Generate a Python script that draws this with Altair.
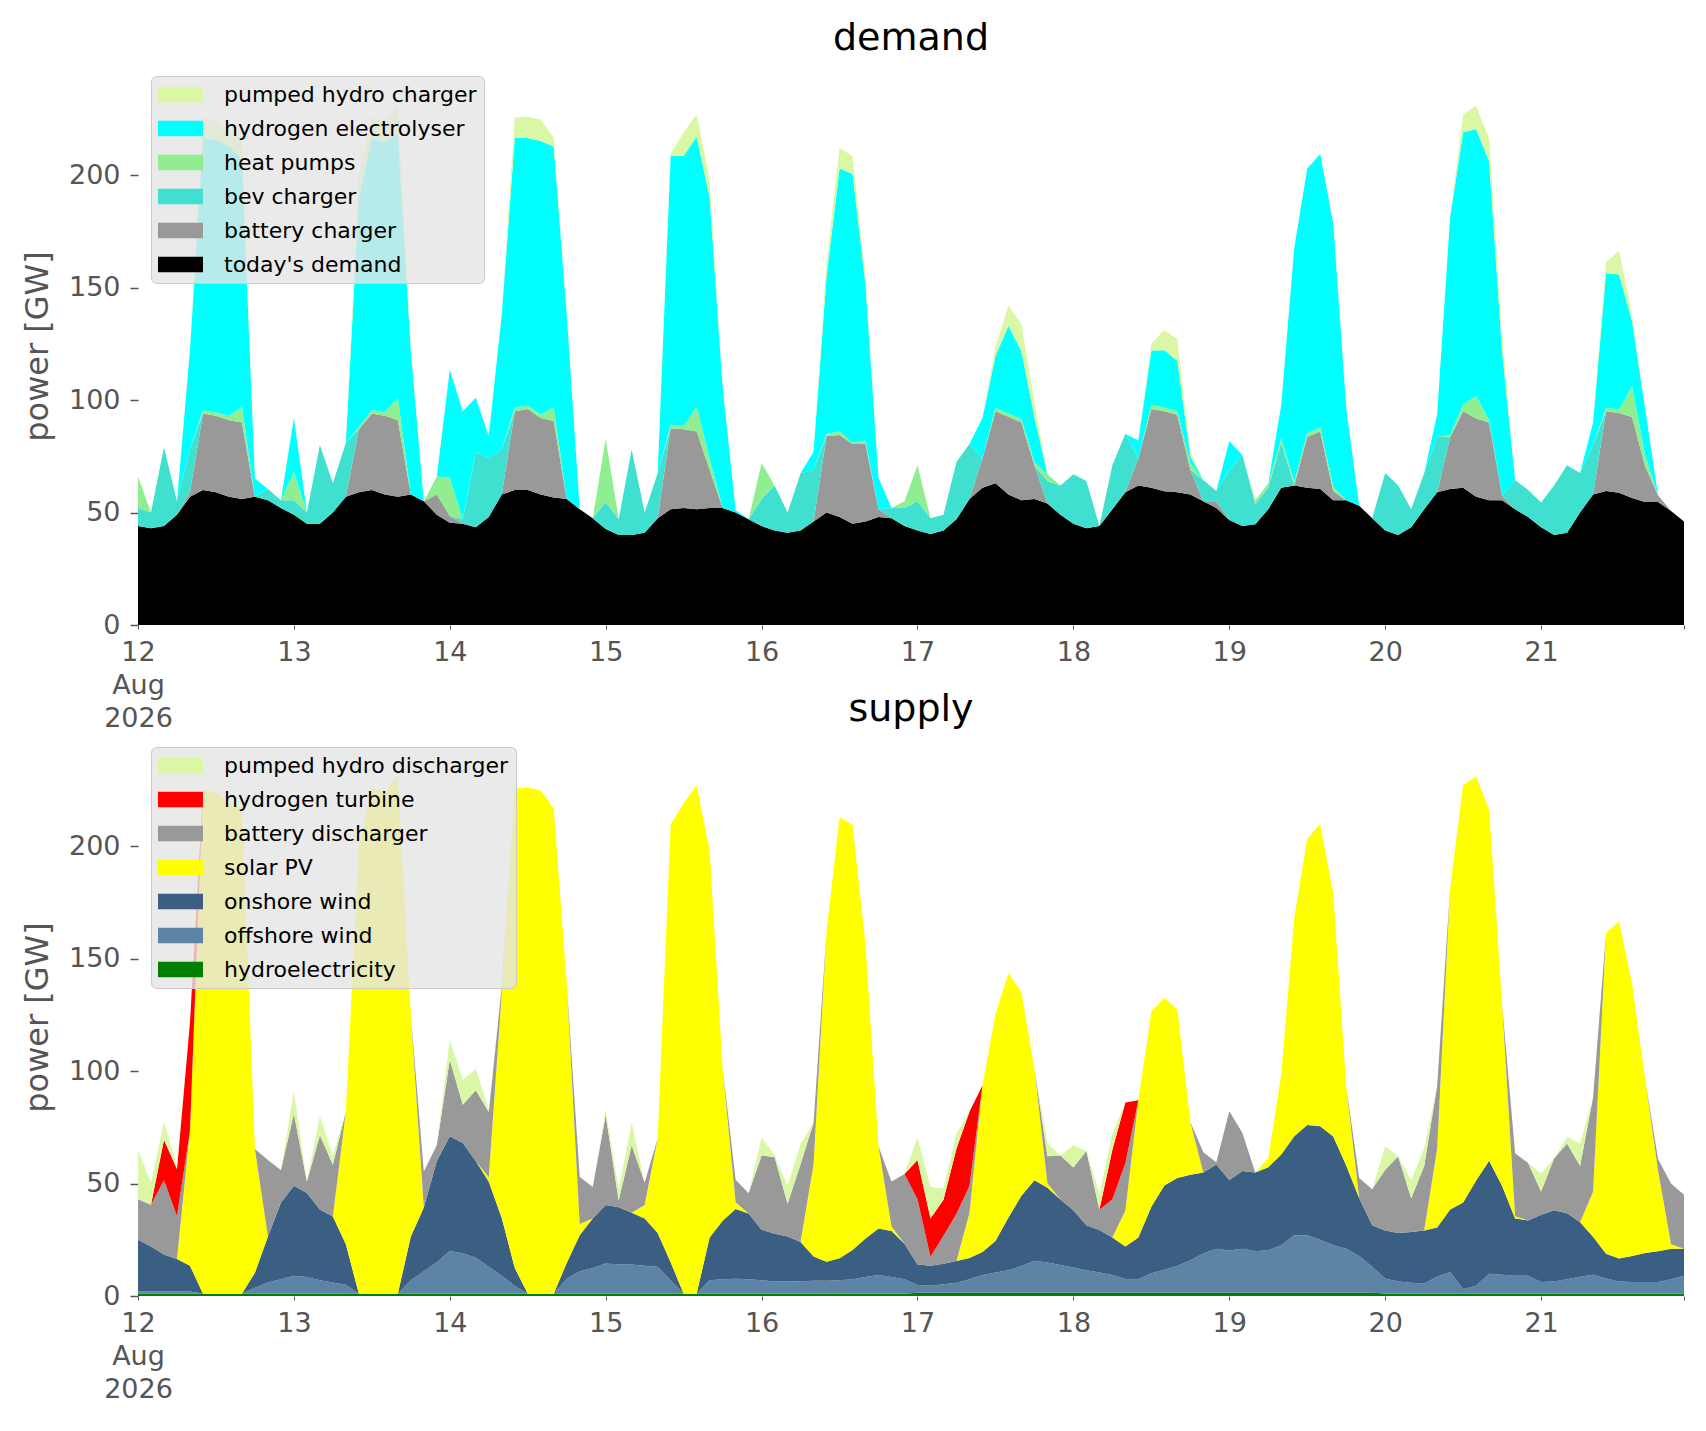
import altair as alt
import pandas as pd

# two-hourly readings, 12 Aug 00:00 .. 21 Aug 22:00 (one row = one day)
times = pd.date_range("2026-08-12 00:00", periods=120, freq="2h")

# ---- demand side (GW) ----
todays_demand = [
    44, 43, 44, 49, 57, 60, 59, 57, 56, 57, 55.5, 52,
    49, 45, 45, 50, 57, 59, 60, 58, 57, 58, 55, 49,
    45.5, 45, 43.5, 48, 58, 60, 60, 58, 56.7, 56, 51.5, 47.5,
    42.7, 40, 40, 41, 47.5, 51.5, 52, 51.5, 52, 52, 50, 47,
    44, 42, 41, 42, 46, 50, 48, 45, 46, 48, 47.5, 44,
    42, 40.5, 42, 47, 56, 61, 63, 58, 55.5, 56, 54, 49,
    45, 43, 44, 51.5, 59, 62, 61, 59.5, 59, 58, 55, 52,
    46.7, 44, 44.8, 51.5, 61, 62, 61, 60.4, 55.5, 55.5, 53, 47.5,
    42, 40, 43.5, 51.5, 59, 60.4, 61, 57, 55.5, 55.5, 51.5, 48,
    43.5, 40, 41, 50, 58, 59.6, 58.8, 56.4, 54.7, 54.7, 50.7, 46,
]
battery_charger = [
    0, 0, 0, 0, 2, 34, 34, 34, 34, 0, 0, 0,
    0, 0, 0, 0, 0, 28, 34, 35, 34, 0, 0, 9,
    3, 0, 0, 0, 0, 35, 36, 34, 34, 0, 0, 0,
    0, 0, 0, 0, 0, 36, 35, 34.5, 17, 0, 0, 0,
    0, 0, 0, 0, 0, 34, 36.5, 35.5, 34.5, 3.5, 0, 0,
    0, 0, 0, 0, 0, 13, 32, 34.6, 34.5, 15, 0, 0,
    0, 0, 0, 0, 0, 12, 35, 35.5, 34.4, 11, 0, 3,
    0, 0, 0, 0, 0, 0, 22.7, 25.6, 4, 0, 0, 0,
    0, 0, 0, 0, 0, 23, 34, 34.8, 34.5, 2, 0, 0,
    0, 0, 0, 0, 0, 35.4, 35.4, 36, 16, 3, 0, 0,
]
bev_charger = [
    8, 7, 35, 6, 19, 0, 0, 0, 0, 0, 5, 3.5,
    6.5, 5, 35, 13, 24, 0, 0, 0, 0, 0, 0, 0,
    0, 2, 33.5, 26, 20, 0, 0, 0, 0, 0, 0, 0,
    12, 7, 38, 9, 20, 0, 0, 0, 0, 0, 0, 0,
    12, 20, 9, 25.5, 23, 0, 0, 0, 0, 0, 4.5, 8,
    13, 7, 7, 25.5, 24.5, 0, 0, 0, 0, 0, 10, 13,
    22, 21, 0, 19.5, 26, 0, 0, 0, 0, 0, 9.4, 4.6,
    22, 31.7, 9, 9.5, 20, 0, 0, 0, 0, 0, 0, 0,
    25.6, 22, 8, 16, 24.7, 0, 0, 0, 0, 0, 13, 12,
    11, 22, 30, 17.6, 22, 0, 0, 0, 0, 0, 0, 0,
]
heat_pumps = [
    14, 0, 0, 0, 0, 1.5, 1.5, 2, 7, 0, 0, 0,
    12.5, 0, 0, 0, 0, 1, 1.6, 1.6, 10, 0, 0, 8,
    17, 0, 0, 0, 0, 1.6, 1.4, 1.5, 6, 0, 0, 0,
    28, 0, 0, 0, 0, 1.5, 1.5, 11, 5, 0, 0, 0,
    16, 0, 0, 0, 0, 1, 1.5, 0.5, 1.5, 0, 0, 3,
    16, 0, 0, 0, 0, 0, 1.6, 1.4, 1.6, 1.5, 3, 0,
    0, 0, 0, 0, 0, 0, 2, 1.6, 1.6, 3, 0, 0,
    0, 0, 1.5, 2, 2, 1.6, 1.6, 1.8, 2, 0, 0, 0,
    0, 0, 0, 0, 0, 1, 3, 10, 1, 0, 0, 0,
    0, 0, 0, 0, 0, 1.6, 1.6, 13.7, 4.9, 0, 0, 0,
]
hydrogen_electrolyser = [
    0, 0, 0, 0, 44, 121, 121, 120, 110, 8, 0, 0,
    24, 0, 0, 0, 0, 102, 120.6, 120, 117.6, 64, 0, 0,
    48, 48, 24, 10, 60, 120, 119, 121.6, 116, 82, 0, 0,
    0, 0, 0, 0, 0, 119.5, 120, 120, 116, 54, 1, 0,
    0, 0, 0, 0, 8, 70, 117, 119.5, 69, 14, 0, 0,
    0, 0, 0, 0, 0, 18, 23, 39, 30, 20, 0, 0,
    0, 0, 0, 0, 0, 8, 24, 25.5, 22.5, 3, 0, 0,
    13, 0, 0, 0, 15, 104, 117.6, 121.5, 117, 41, 0, 0,
    0, 0, 0, 0, 10, 97, 121, 118.6, 115, 64, 0, 0,
    0, 0, 0, 0, 10, 59.7, 60, 29, 21, 0, 0, 0,
]
pumped_hydro_charger = [
    0, 0, 0, 0, 0, 9, 8.6, 6, 10, 0, 0, 0,
    0, 0, 0, 0, 0, 10, 9.4, 9, 13, 3, 0, 0,
    0, 0, 0, 0, 0, 9, 9.5, 9.6, 4, 0, 0, 0,
    0, 0, 0, 0, 0, 1, 10.5, 10, 8, 0, 0, 0,
    0, 0, 0, 0, 0, 6, 9, 8, 4, 0, 0, 0,
    0, 0, 0, 0, 0, 0, 4, 9, 12, 7, 0, 0,
    0, 0, 0, 0, 0, 0, 3, 9, 9.6, 2, 0, 0,
    0, 0, 0, 0, 0, 0, 0, 0, 0, 0, 0, 0,
    0, 0, 0, 0, 0, 0, 8, 10.4, 10, 8, 0, 0,
    0, 0, 0, 0, 0, 5, 10.5, 3.5, 0, 0, 0, 0,
]

# ---- supply side (GW) ----
hydroelectricity = [
    1, 1, 1, 1, 1, 1, 1, 1, 1, 1, 1, 1,
    1, 1, 1, 1, 1, 1, 1, 1, 1, 1, 1, 1,
    1, 1, 1, 1, 1, 1, 1, 1, 1, 1, 1, 1,
    1, 1, 1, 1, 1, 1, 1, 1, 1, 1, 1, 1,
    1, 1, 1, 1, 1, 1, 1, 1, 1, 1, 1, 1,
    1.4, 1.4, 1.4, 1.4, 1.4, 1.4, 1.4, 1.4, 1.4, 1.4, 1.4, 1.4,
    1.4, 1.4, 1.4, 1.4, 1.4, 1.4, 1.4, 1.4, 1.4, 1.4, 1.4, 1.4,
    1.4, 1.4, 1.4, 1.4, 1.4, 1.4, 1.4, 1.4, 1.4, 1.4, 1.4, 1.4,
    1.1, 1.1, 1.1, 1.1, 1.1, 1.1, 1.1, 1.1, 1.1, 1.1, 1.1, 1.1,
    1.1, 1.1, 1.1, 1.1, 1.1, 1.1, 1.1, 1.1, 1.1, 1.1, 1.1, 1.1,
]
offshore_wind = [
    1, 1, 1, 1, 1, 0, 0, 0, 0, 2.7, 5, 6.5,
    8, 7.5, 6, 5, 4, 0, 0, 0, 0, 6, 10, 14,
    19, 18, 16, 12, 8, 3.5, 0, 0, 0, 6.7, 10, 11.5,
    13.5, 13, 13, 12.4, 12, 6, 0, 0, 6, 6.4, 6.7, 6.4,
    6, 5.4, 5.4, 5.6, 5.8, 5.8, 6, 6.4, 7.4, 8.3, 7.5, 6.4,
    3.5, 3.2, 3.8, 4.5, 6, 7.9, 9.1, 10, 11.9, 14.3, 13.5, 12.4,
    11.3, 10, 9.1, 7.9, 6.2, 6, 8.7, 10.3, 12, 14.5, 17.5, 19.6,
    18.8, 19.6, 18.5, 19, 21.2, 25.6, 25.6, 23.6, 21.2, 19.6, 16.4, 11.6,
    6.7, 5.3, 4.8, 4.5, 7.5, 9.6, 1.9, 3.5, 8.8, 8.3, 7.9, 7.9,
    5.1, 5.4, 6.4, 7.5, 8.3, 6.7, 5.4, 5.1, 5.1, 5.1, 6.4, 7.9,
]
onshore_wind = [
    23, 20, 16.5, 14.5, 11.5, 0, 0, 0, 0, 6.6, 20.4, 34,
    40, 37.3, 31.5, 29.3, 18, 0, 0, 0, 0, 19.4, 28.3, 45,
    51, 49, 43, 37.8, 25.7, 8, 0, 0, 0, 7, 16, 22,
    26, 25.5, 23, 21, 15, 8, 0, 0, 19, 26, 31, 29.3,
    22.5, 21.3, 20, 17.4, 10.8, 8.4, 9.8, 13, 17.2, 20.7, 20.4, 15.8,
    9.1, 8.8, 9.1, 9.7, 9.5, 10.3, 14, 23.5, 31.3, 35.7, 33.2, 29.1,
    25.4, 20, 18.8, 16.7, 14.4, 18.6, 29.6, 37.4, 39, 38, 36, 37.4,
    31.4, 34.6, 35, 36.8, 40.3, 44, 49, 50.4, 48.3, 37, 25.6, 18.4,
    21.3, 21.6, 22.5, 23.5, 21.8, 27.7, 38.6, 46.7, 50.2, 39.5, 25.4, 24.6,
    29.9, 31.6, 29.3, 24.2, 16.9, 11, 10.2, 11.6, 12.9, 13.7, 13.5, 12,
]
solar_pv = [
    0, 0, 0, 0, 60, 224, 223, 218, 216, 55, 0, 0,
    0, 0, 0, 0, 59, 199, 224.6, 223, 230.6, 98.6, 0, 0,
    0, 0, 0, 2, 100, 213, 225, 223.7, 215.7, 124, 5, 0,
    0, 0, 0, 6, 42, 194.5, 218, 226, 172, 68, 3, 0,
    0, 0, 0, 0, 41, 146.8, 196, 189, 130.4, 36.5, 2, 0,
    0, 0, 0, 0, 20, 74, 100.6, 108.5, 90.4, 49.5, 2, 0,
    0, 0, 0, 0, 16, 61, 86.7, 83.4, 75, 23.4, 0, 0,
    0, 0, 0, 4, 35.5, 97, 127.3, 134.3, 108, 35, 0, 0,
    0, 0, 0, 0, 35, 143, 185.5, 179.6, 156, 80.7, 1, 0,
    0, 0, 0, 0, 20, 142.6, 149.7, 121, 77.6, 36, 2, 0,
]
battery_discharger = [
    18, 18.6, 33, 19, 0, 0, 0, 0, 0, 0, 34, 14.5,
    32, 5, 33, 23, 0, 0, 0, 0, 0, 0, 16, 7,
    34, 17, 31.5, 29, 3, 0, 0, 0, 0, 0, 21, 14,
    40, 3, 30, 10, 0, 0, 0, 0, 0, 0, 10, 9,
    33, 34, 14.6, 34.6, 18.4, 0, 0, 0, 0, 0, 20, 31,
    29, 4, 12.5, 21, 12, 0, 0, 0, 0, 0, 12, 19.5,
    19, 33, 9, 17, 21, 0, 0, 0, 0, 0, 9, 1,
    30.5, 17, 0, 0, 0, 0, 0, 0, 0, 0, 9, 16,
    27, 34, 15, 28.6, 28, 0, 0, 0, 0, 0, 28, 25.5,
    10.4, 23, 31, 25, 42, 0, 0, 0, 0, 5, 27, 24,
]
hydrogen_turbine = [
    0, 0, 18, 21, 48, 0, 0, 0, 0, 0, 0, 0,
    0, 0, 0, 0, 0, 0, 0, 0, 0, 0, 0, 0,
    0, 0, 0, 0, 0, 0, 0, 0, 0, 0, 0, 0,
    0, 0, 0, 0, 0, 0, 0, 0, 0, 0, 0, 0,
    0, 0, 0, 0, 0, 0, 0, 0, 0, 0, 0, 0,
    17.5, 17, 16, 29, 33, 0, 0, 0, 0, 0, 0, 0,
    0, 0, 0, 22, 27, 0, 0, 0, 0, 0, 0, 0,
    0, 0, 0, 0, 0, 0, 0, 0, 0, 0, 0, 0,
    0, 0, 0, 0, 0, 0, 0, 0, 0, 0, 0, 0,
    0, 0, 0, 0, 0, 0, 0, 0, 0, 0, 0, 0,
]
pumped_hydro_discharger = [
    22, 9.6, 8, 1, 0, 0, 0, 0, 0, 0, 0, 0,
    10, 0, 8.5, 4, 0, 0, 0, 0, 0, 0, 0, 0,
    9, 11, 9.5, 1, 0, 0, 0, 0, 0, 0, 0, 0,
    2, 5, 10, 0, 0, 0, 0, 0, 0, 0, 0, 0,
    8, 1, 8, 9, 0, 0, 0, 0, 0, 0, 0, 0,
    10, 14, 5, 6.5, 0, 0, 0, 0, 0, 0, 6, 0,
    10, 0, 7, 7, 0, 0, 0, 0, 0, 0, 0, 0,
    0, 0, 0, 0, 0, 0, 0, 0, 0, 0, 0, 0,
    10.5, 0, 8, 8, 0, 0, 0, 0, 0, 0, 0, 0,
    8, 0, 3, 10, 0, 0, 0, 0, 0, 0, 0, 0,
]

# layers listed bottom -> top, with colours
demand_layers = [
    ("today's demand", todays_demand, "#000000"),
    ("battery charger", battery_charger, "#999999"),
    ("bev charger", bev_charger, "#40e0d0"),
    ("heat pumps", heat_pumps, "#90ee90"),
    ("hydrogen electrolyser", hydrogen_electrolyser, "#00ffff"),
    ("pumped hydro charger", pumped_hydro_charger, "#daf7a6"),
]
supply_layers = [
    ("hydroelectricity", hydroelectricity, "#008000"),
    ("offshore wind", offshore_wind, "#5d83a5"),
    ("onshore wind", onshore_wind, "#3b5f82"),
    ("solar PV", solar_pv, "#ffff00"),
    ("battery discharger", battery_discharger, "#999999"),
    ("hydrogen turbine", hydrogen_turbine, "#ff0000"),
    ("pumped hydro discharger", pumped_hydro_discharger, "#daf7a6"),
]

FONT = "DejaVu Sans"
day_ticks = [alt.DateTime(year=2026, month=8, date=d) for d in range(12, 22)]
day_ticks.append(alt.DateTime(year=2026, month=8, date=21, hours=22))
x_domain = [alt.DateTime(year=2026, month=8, date=12),
            alt.DateTime(year=2026, month=8, date=21, hours=22)]


def stacked_panel(title, layers):
    rows = []
    for rank, (name, values, _) in enumerate(layers):
        for t, v in zip(times, values):
            rows.append({"time": t, "series": name, "power": v, "rank": rank})
    df = pd.DataFrame(rows)

    names = [l[0] for l in layers][::-1]
    colors = [l[2] for l in layers][::-1]

    return alt.Chart(df, title=alt.Title(
        title, fontSize=38, font=FONT, fontWeight="normal", color="black",
        anchor="middle", offset=9)).mark_area(interpolate="linear", opacity=1).encode(
        alt.X("time:T", title=None, scale=alt.Scale(domain=x_domain),
              axis=alt.Axis(values=day_ticks, format="%-d", tickSize=4, labelPadding=10,
                            labelFlush=False, labelOverlap=False, labelLineHeight=33,
                            labelExpr="hours(datum.value) != 0 ? '' : "
                                      "(date(datum.value) == 12 ? ['12', 'Aug', '2026'] : datum.label)")),
        alt.Y("power:Q", stack="zero", title="power [GW]",
              scale=alt.Scale(domain=[0, 248], nice=False),
              axis=alt.Axis(values=[0, 50, 100, 150, 200], tickSize=8, tickWidth=1.5,
                            labelPadding=10, titlePadding=14)),
        alt.Color("series:N", scale=alt.Scale(domain=names, range=colors),
                  legend=alt.Legend(title=None, orient="none", legendX=13, legendY=9,
                                    symbolType="M-2,-0.7H2V0.7H-2Z", symbolSize=506,
                                    symbolStrokeWidth=0, symbolOpacity=1, symbolOffset=11,
                                    labelFont=FONT, labelFontSize=22, labelColor="black",
                                    labelOffset=32, labelLimit=600, rowPadding=11, padding=7,
                                    fillColor="rgba(229,229,229,0.8)", strokeColor="#cccccc",
                                    cornerRadius=5)),
        alt.Order("rank:Q"),
    ).properties(width=1546, height=558)


demand = stacked_panel("demand", demand_layers)
supply = stacked_panel("supply", supply_layers)

chart = (alt.vconcat(demand, supply, spacing=113, bounds="flush")
         .resolve_scale(color="independent")
         .properties(padding={"left": 13, "top": 12, "right": 2, "bottom": 4})
         .configure_axis(labelFont=FONT, titleFont=FONT, labelFontSize=27, titleFontSize=32,
                         titleFontWeight="normal", labelColor="#555555", titleColor="#555555",
                         tickColor="#555555", domain=False, grid=False)
         .configure_view(stroke=None))

chart.save("out.html", embed_options={"renderer": "svg", "actions": False})
